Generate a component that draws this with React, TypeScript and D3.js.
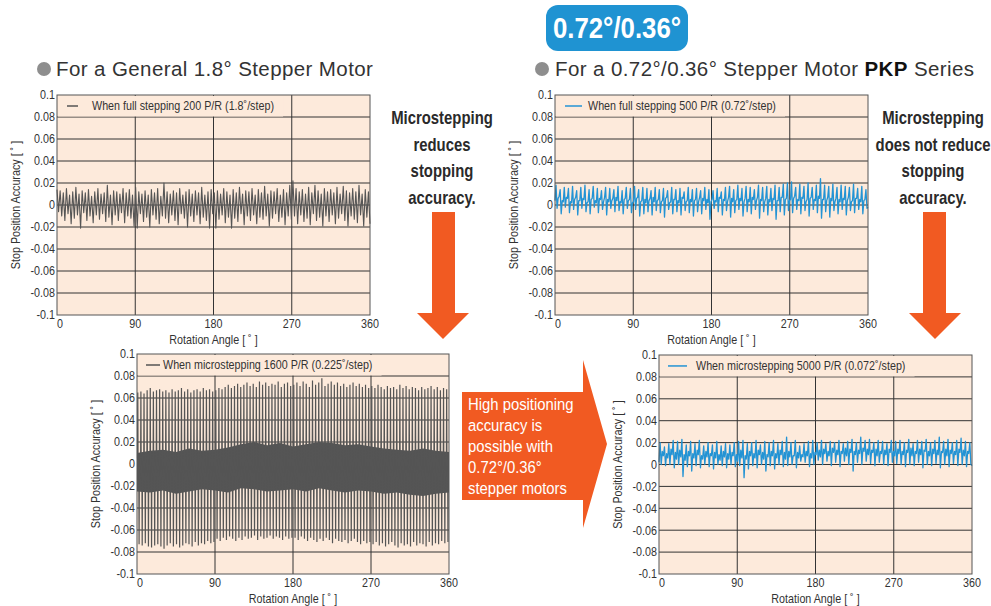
import React, { useRef, useEffect } from 'react';
import * as d3 from 'd3';

// values are in thousandths of a degree
const xTicks = [0, 90, 180, 270, 360];
const yTicks = [0.1, 0.08, 0.06, 0.04, 0.02, 0, -0.02, -0.04, -0.06, -0.08, -0.1];
const yTickLabels = ['0.1', '0.08', '0.06', '0.04', '0.02', '0', '-0.02', '-0.04', '-0.06', '-0.08', '-0.1'];

// General 1.8° motor, full stepping 200 P/R (one value per step)
const fullStep200 = [
  14, -6, 13, -10, 11, -14, 15, -8, 9, -17, 12, -12, 16, -9, 10, -21, 13, -7, 11, -14, 14, -10, 8, -16, 12, -9,
  15, -13, 10, -8, 11, -15, 18, -11, 9, -18, 13, -9, 12, -14, 10, -7, 15, -16, 11, -10, 14, -12, 9, -19,
  16, -21, 12, -8, 10, -15, 13, -11, 9, -20, 14, -9, 11, -13, 15, -17, 8, -10, 20, -12, 12, -16, 10, -9,
  13, -14, 11, -18, 15, -8, 9, -12, 12, -20, 14, -10, 10, -15, 13, -9, 11, -17, 16, -11, 9, -14, 12, -21, 14, -8,
  11, -21, 13, -13, 10, -9, 15, -16, 12, -11, 9, -21, 14, -12, 11, -15, 16, -8, 10, -18, 13, -10, 12, -14,
  15, -9, 9, -17, 14, -11, 11, -13, 17, -10, 10, -19, 13, -12, 12, -8, 15, -15, 9, -11, 14, -18, 11, -10, 18, -13,
  22, -10, 15, -17, 12, -9, 14, -15, 10, -12, 16, -18, 11, -8, 18, -14, 13, -11, 10, -19, 15, -10, 12, -15,
  14, -9, 11, -17, 16, -12, 10, -8, 17, -14, 13, -19, 11, -10, 15, -13, 12, -16, 18, -9, 10, -19, 14, -11, 12, -17,
];

// PKP 0.72° motor, full stepping 500 P/R
const fullStep500 = [
  4, 18, -3, 6, 8, 14, -8, 4, 3, 16, -2, 7, 6, 15, -7, 3, 2, 17, -4, 5, 7, 13, -9, 4, 4, 16, -3, 6, 5, 18, -6, 2,
  3, 14, -8, 5, 6, 17, -2, 4, 2, 15, -7, 6, 5, 13, -4, 3, 7, 16, -9, 5, 3, 15, -3, 4, 6, 14, -6, 7, 4, 17, -5, 3,
  2, 13, -8, 5, 6, 16, -3, 4, 5, 15, -7, 2,
  3, 17, -4, 6, 7, 14, -10, 3, 4, 16, -8, 5, 2, 15, -6, 4, 6, 13, -9, 7, 3, 16, -5, 4, 5, 14, -7, 3, 4, 15, -11, 6,
  7, 13, -4, 2, 3, 16, -8, 5, 5, 14, -6, 4, 2, 15, -9, 7, 6, 12, -5, 3, 4, 16, -7, 5, 3, 14, -10, 4, 5, 15, -6, 3,
  7, 13, -8, 6, 4, 16, -4, 5, 2, 14, -13, 3,
  5, 13, -3, 4, 3, 15, -6, 7, 6, 12, -9, 5, 4, 16, -5, 3, 7, 17, -11, 6, 3, 14, -7, 4, 5, 18, -4, 6, 4, 15, -10, 3,
  6, 17, -6, 5, 3, 16, -8, 7, 5, 14, -4, 4, 7, 18, -12, 5, 4, 16, -6, 3, 6, 17, -9, 5, 3, 15, -5, 6, 5, 18, -13, 4,
  4, 16, -6, 7, 7, 19, -9, 5, 6, 20, -5, 4,
  5, 21, -7, 6, 8, 16, -4, 5, 4, 19, -8, 7, 6, 17, -5, 3, 5, 20, -10, 6, 7, 16, -4, 5, 4, 18, -7, 8, 6, 24, -12, 5,
  5, 18, -6, 4, 7, 17, -11, 6, 4, 19, -5, 3, 6, 16, -8, 5, 3, 18, -4, 6, 5, 17, -9, 4, 7, 16, -5, 3, 4, 19, -7, 6,
  6, 15, -4, 5, 3, 17, -8, 4, 5, 14, -3, -2,
];

// General 1.8° motor, microstepping 1600 P/R: spike tips per cycle and the dense band
const micro1600Upper = [
  65, 66, 64, 67, 69, 66, 67, 68, 66, 67, 65, 68, 66, 67, 69, 66, 68, 65, 67, 68, 66, 69, 67, 68, 66,
  67, 69, 68, 70, 72, 69, 71, 73, 70, 72, 74, 71, 73, 70, 75, 72, 74, 71, 73, 72, 75, 70, 73, 74, 71,
  72, 74, 71, 75, 73, 70, 76, 72, 74, 78, 71, 73, 75, 72, 74, 71, 73, 70, 72, 74, 71, 73, 70, 72, 69,
  71, 69, 72, 70, 68, 71, 69, 70, 68, 72, 69, 71, 68, 70, 69, 67, 70, 68, 69, 71, 68, 70, 67, 69, 68,
];
const micro1600Lower = [
  -73, -74, -72, -75, -76, -74, -73, -75, -77, -74, -72, -75, -73, -76, -74, -72, -73, -75, -71, -74, -72, -73, -70, -72, -71,
  -68, -70, -67, -69, -66, -68, -70, -67, -69, -66, -68, -67, -65, -69, -66, -68, -67, -65, -68, -66, -67, -69, -66, -68, -67,
  -67, -69, -66, -68, -70, -67, -69, -71, -68, -70, -67, -69, -72, -68, -70, -71, -69, -72, -70, -68, -71, -73, -70, -72, -71,
  -73, -71, -74, -72, -75, -73, -71, -74, -76, -72, -74, -73, -75, -71, -74, -72, -73, -75, -71, -74, -72, -73, -70, -72, -71,
];
const micro1600BandTop = [10, 12, 13, 11, 14, 12, 13, 15, 18, 20, 17, 19, 16, 18, 20, 19, 17, 18, 16, 14, 13, 12, 14, 12, 11];
const micro1600BandBottom = [-25, -26, -24, -27, -25, -23, -24, -26, -22, -23, -25, -24, -23, -25, -22, -24, -26, -24, -25, -27, -26, -28, -29, -27, -26];

// PKP 0.72° motor, microstepping 5000 P/R
const micro5000 = [
  2, 20, 0, 12, 8, 16, -1, 10, 6, 19, 0, 14, 9, 22, -3, 11, 5, 21, 0, 13, 7, 23, -11, 9, 4, 18, -2, 12, 8, 21, -6, 10,
  6, 19, -1, 13, 9, 22, -3, 8, 5, 17, 0, 12, 7, 20, -2, 10, 8, 18, -4, 11, 6, 21, 0, 9, 4, 17, -1, 12, 7, 19, -3, 10,
  5, 18, 0, 11, 8, 20, -2, 9,
  3, 21, -1, 13, 6, 22, -12, 8, 5, 19, -4, 12, 8, 20, -1, 10, 6, 22, -3, 13, 9, 18, 0, 11, 5, 21, -6, 9, 7, 20, -1, 12,
  8, 22, -4, 10, 6, 19, 0, 13, 9, 21, -2, 11, 5, 25, -1, 12, 7, 20, 0, 8, 8, 22, -3, 11, 6, 17, 3, 9, 7, 19, 2, 12,
  8, 21, -2, 10, 6, 22, 0, 11,
  9, 20, 4, 13, 7, 22, 0, 14, 10, 19, 3, 12, 8, 21, -1, 15, 11, 20, 2, 13, 9, 22, -2, 12, 10, 19, 3, 15, 8, 21, 0, 14,
  11, 23, -6, 12, 9, 20, 2, 13, 10, 25, 0, 15, 12, 22, 3, 14, 9, 23, 1, 13, 11, 20, -1, 14, 8, 22, 2, 12, 10, 21, 0, 13,
  9, 19, -1, 14, 11, 22, 2, 12,
  8, 21, 1, 14, 10, 22, 0, 12, 9, 20, -2, 13, 11, 23, 0, 15, 8, 19, -1, 12, 10, 22, 2, 14, 9, 21, -3, 13, 12, 23, 0, 12,
  8, 20, -1, 14, 10, 22, 1, 13, 9, 25, -3, 12, 11, 21, 0, 14, 8, 23, -2, 13, 10, 20, 1, 12, 9, 22, -1, 14, 11, 24, 0, 13,
  8, 21, -2, 12, 10, 20, 0, -1,
];

const GRAY = '#555555';
const BLUE = '#2393d4';
const ORANGE = '#f15a22';
const PEACH = '#fdeadb';
const SANS = '"Liberation Sans", Arial, sans-serif';

type Sel = d3.Selection<any, unknown, null, undefined>;

// no condensed face is installed, so squeeze Liberation Sans horizontally
function narrowText(parent: Sel, x: number, y: number, text: string, size: number, squeeze: number, anchor = 'start', rot = 0) {
  return parent.append('text')
    .attr('transform', `translate(${x},${y}) rotate(${rot}) scale(${squeeze},1)`)
    .attr('text-anchor', anchor)
    .attr('font-family', SANS).attr('font-size', size)
    .text(text);
}

interface Panel {
  left: number;
  top: number;
  width: number;
  height: number;
  legend: string;
  color: string;
  legendLine: [number, number];
  legendText: number;
  values?: number[];
  upper?: number[];
  lower?: number[];
  bandTop?: number[];
  bandBottom?: number[];
}

const panels: Panel[] = [
  { left: 57, top: 95, width: 313, height: 220, legend: 'When full stepping 200 P/R (1.8˚/step)', color: GRAY, legendLine: [10, 21], legendText: 35, values: fullStep200 },
  { left: 555, top: 95, width: 313, height: 220, legend: 'When full stepping 500 P/R (0.72˚/step)', color: BLUE, legendLine: [10, 27], legendText: 33, values: fullStep500 },
  { left: 137, top: 354, width: 312, height: 220, legend: 'When microstepping 1600 P/R (0.225˚/step)', color: GRAY, legendLine: [9, 23], legendText: 26, upper: micro1600Upper, lower: micro1600Lower, bandTop: micro1600BandTop, bandBottom: micro1600BandBottom },
  { left: 659, top: 355, width: 313, height: 219, legend: 'When microstepping 5000 P/R (0.072˚/step)', color: BLUE, legendLine: [9, 28], legendText: 37, values: micro5000 },
];

function drawPanel(svg: Sel, p: Panel) {
  const x = d3.scaleLinear().domain([0, 360]).range([p.left, p.left + p.width]);
  const y = d3.scaleLinear().domain([-0.1, 0.1]).range([p.top + p.height, p.top]);
  const g = svg.append('g');

  g.append('rect')
    .attr('x', p.left).attr('y', p.top)
    .attr('width', p.width).attr('height', p.height)
    .attr('fill', PEACH);

  // grid
  g.selectAll('line.h').data(yTicks.slice(1, -1)).enter().append('line')
    .attr('x1', p.left).attr('x2', p.left + p.width)
    .attr('y1', d => y(d)).attr('y2', d => y(d))
    .attr('stroke', '#333').attr('stroke-width', 1);
  g.selectAll('line.v').data(xTicks.slice(1, -1)).enter().append('line')
    .attr('x1', d => x(d)).attr('x2', d => x(d))
    .attr('y1', p.top).attr('y2', p.top + p.height)
    .attr('stroke', '#333').attr('stroke-width', 1);

  const line = d3.line<[number, number]>().x(d => x(d[0])).y(d => y(d[1] / 1000));

  if (p.values) {
    const step = 360 / (p.values.length - 1);
    const pts = p.values.map((v, i) => [i * step, v] as [number, number]);
    g.append('path').attr('d', line(pts)).attr('fill', 'none')
      .attr('stroke', p.color).attr('stroke-width', p.color === BLUE ? 1.3 : 1.1)
      .attr('stroke-linejoin', 'round');
  }

  if (p.upper && p.lower && p.bandTop && p.bandBottom) {
    const bt = p.bandTop;
    const bb = p.bandBottom;
    const bStep = 360 / (bt.length - 1);
    const area = d3.area<number>()
      .x((_, i) => x(i * bStep))
      .y0((_, i) => y(bb[i] / 1000))
      .y1(d => y(d / 1000));
    g.append('path').attr('d', area(bt)).attr('fill', p.color);

    const cyc = 360 / p.upper.length;
    const pts: [number, number][] = [];
    p.upper.forEach((u, i) => {
      const a = i * cyc + 0.6;
      pts.push([a, 5], [a + 0.3, u], [a + 0.6, 5], [a + 1.5, -15], [a + 1.8, p.lower![i]], [a + 2.1, -15]);
    });
    g.append('path').attr('d', line(pts)).attr('fill', 'none')
      .attr('stroke', p.color).attr('stroke-width', 1.2);
  }

  // legend (covers the top band)
  const ly = y(0.09);
  const lg = g.append('g');
  const bg = lg.append('rect').attr('fill', PEACH);
  lg.append('line')
    .attr('x1', p.left + p.legendLine[0]).attr('x2', p.left + p.legendLine[1])
    .attr('y1', ly).attr('y2', ly)
    .attr('stroke', p.color).attr('stroke-width', 1.5);
  const lt = narrowText(lg, p.left + p.legendText, ly + 4.3, p.legend, 12.5, 0.86).attr('fill', '#333');
  const box = (lt.node() as SVGTextElement).getBBox();
  bg.attr('x', p.left + 1).attr('y', p.top + 1)
    .attr('width', p.legendText + box.width * 0.86 + 8).attr('height', y(0.08) - p.top - 1.5);

  g.append('rect')
    .attr('x', p.left).attr('y', p.top)
    .attr('width', p.width).attr('height', p.height)
    .attr('fill', 'none').attr('stroke', '#555').attr('stroke-width', 1);

  // tick labels and titles
  yTicks.forEach((d, i) => {
    narrowText(g, p.left - 2, y(d) + 4.3, yTickLabels[i], 12.5, 0.86, 'end').attr('fill', '#333');
  });
  xTicks.forEach(d => {
    narrowText(g, x(d) + (d === 0 ? 3 : 0), p.top + p.height + 13, String(d), 12.5, 0.86, 'middle').attr('fill', '#333');
  });
  narrowText(g, p.left + p.width / 2, p.top + p.height + 29, 'Rotation Angle [ ˚ ]', 12.5, 0.86, 'middle').attr('fill', '#333');
  narrowText(g, p.left - 37, p.top + p.height / 2, 'Stop Position Accuracy [ ˚ ]', 12.5, 0.86, 'middle', -90).attr('fill', '#333');
}

const App: React.FC = () => {
  const svgRef = useRef<SVGSVGElement | null>(null);

  useEffect(() => {
    const svg = d3.select(svgRef.current as SVGSVGElement) as Sel;
    svg.selectAll('*').remove();

    svg.append('rect').attr('width', 991).attr('height', 606).attr('fill', '#fff');

    // badge
    svg.append('rect').attr('x', 546).attr('y', 5).attr('width', 142).attr('height', 46).attr('rx', 12)
      .attr('fill', '#1f93d2');
    narrowText(svg, 617, 38, '0.72°/0.36°', 30, 0.86, 'middle').attr('font-weight', 'bold').attr('fill', '#fff');

    // titles
    svg.append('circle').attr('cx', 44).attr('cy', 69).attr('r', 7).attr('fill', '#8e8e8e');
    svg.append('text').attr('x', 56).attr('y', 76).attr('font-family', SANS).attr('font-size', 20.5)
      .attr('letter-spacing', 0.4).attr('fill', '#333')
      .text('For a General 1.8° Stepper Motor');
    svg.append('circle').attr('cx', 542).attr('cy', 69).attr('r', 7).attr('fill', '#8e8e8e');
    const t2 = svg.append('text').attr('x', 555).attr('y', 76).attr('font-family', SANS).attr('font-size', 20.5)
      .attr('letter-spacing', 0.4).attr('fill', '#333');
    t2.append('tspan').text('For a 0.72°/0.36° Stepper Motor ');
    t2.append('tspan').attr('font-weight', 'bold').attr('fill', '#111').text('PKP');
    t2.append('tspan').text(' Series');

    panels.forEach(p => drawPanel(svg, p));

    // side notes
    const note = (cx: number, lines: string[]) => {
      lines.forEach((s, i) => {
        narrowText(svg, cx, 124 + i * 26.7, s, 17.5, 0.85, 'middle')
          .attr('font-weight', 'bold').attr('fill', '#2a2a2a');
      });
    };
    note(442, ['Microstepping', 'reduces', 'stopping', 'accuracy.']);
    note(933, ['Microstepping', 'does not reduce', 'stopping', 'accuracy.']);

    const downArrow = (x0: number, x1: number, hx0: number, hx1: number) => {
      const pts: [number, number][] = [[x0, 212], [x1, 212], [x1, 313], [hx1, 313], [(hx0 + hx1) / 2, 339], [hx0, 313], [x0, 313]];
      svg.append('polygon').attr('points', pts.map(q => q.join(',')).join(' ')).attr('fill', ORANGE);
    };
    downArrow(432, 455, 417, 469);
    downArrow(923, 946, 909, 961);

    const mid: [number, number][] = [[462, 392], [583, 392], [583, 360], [607, 444], [583, 528], [583, 500], [462, 500]];
    svg.append('polygon').attr('points', mid.map(q => q.join(',')).join(' ')).attr('fill', ORANGE);
    ['High positioning', 'accuracy is', 'possible with', '0.72°/0.36°', 'stepper motors'].forEach((s, i) => {
      narrowText(svg, 468, 410 + i * 21, s, 16.5, 0.9).attr('fill', '#fff');
    });
  }, []);

  return (
    <svg ref={svgRef} width={991} height={606} style={{ position: 'absolute', left: 0, top: 0 }} />
  );
};

export default App;
